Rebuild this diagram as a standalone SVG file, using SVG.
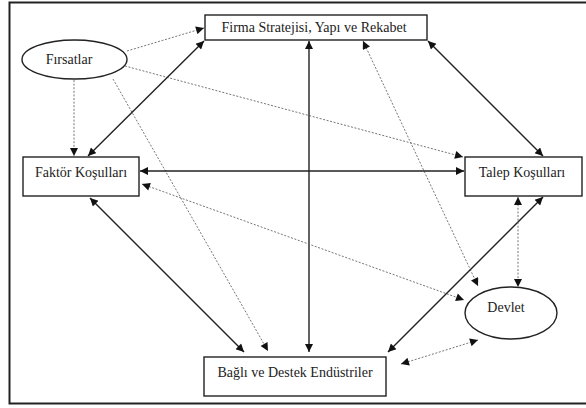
<svg xmlns="http://www.w3.org/2000/svg" width="586" height="408" viewBox="0 0 586 408">
<defs>
<style>
.box{fill:#fff;stroke:#222;stroke-width:1.4}
.lbl{font-family:'Liberation Serif','Times New Roman','DejaVu Serif',serif;font-size:14px;fill:#222;text-anchor:middle}
.solid{stroke:#222;stroke-width:1.4;fill:none;marker-start:url(#ah);marker-end:url(#ah)}
.dot{stroke:#666;stroke-width:0.9;fill:none;stroke-dasharray:2 1.6}
.one{marker-end:url(#ah)}
.two{marker-start:url(#ah);marker-end:url(#ah)}
</style>
<marker id="ah" viewBox="0 0 10 10" refX="10" refY="5" markerWidth="9" markerHeight="8" markerUnits="userSpaceOnUse" orient="auto-start-reverse">
<path d="M0,0 L10,5 L0,10 z" fill="#111"/>
</marker>
</defs>
<rect width="586" height="408" fill="#fff"/>
<path d="M590,2.5 H9.5 V403.5 H590" fill="none" stroke="#222" stroke-width="2"/>
<g id="connectors">
<line class="dot one" x1="127" y1="51" x2="204" y2="28"/>
<line class="dot one" x1="74" y1="80" x2="74" y2="156"/>
<line class="dot one" x1="125" y1="66" x2="463" y2="157"/>
<line class="dot one" x1="113" y1="79" x2="268" y2="351"/>
<line class="solid" x1="204" y1="41" x2="88" y2="156"/>
<line class="solid" x1="309" y1="41" x2="309" y2="352"/>
<line class="dot two" x1="363" y1="41" x2="478" y2="286"/>
<line class="solid" x1="428" y1="41" x2="543" y2="156"/>
<line class="solid" x1="140" y1="171" x2="464" y2="171"/>
<line class="dot two" x1="142" y1="184" x2="464" y2="300"/>
<line class="solid" x1="90" y1="198" x2="244" y2="352"/>
<line class="solid" x1="543" y1="197" x2="388" y2="352"/>
<line class="dot two" x1="518" y1="197" x2="518" y2="287"/>
<line class="dot two" x1="401" y1="364" x2="478" y2="340"/>
</g>
<g id="firma">
<rect class="box" x="205" y="15" width="222" height="25"/>
<text class="lbl" x="314" y="32">Firma Stratejisi, Yapı ve Rekabet</text>
</g>
<g id="firsatlar">
<ellipse class="box" cx="74.5" cy="59.5" rx="52.5" ry="19.5"/>
<text class="lbl" x="69" y="64">Fırsatlar</text>
</g>
<g id="faktor">
<rect class="box" x="23" y="157" width="116" height="39"/>
<text class="lbl" x="81" y="177">Faktör Koşulları</text>
</g>
<g id="talep">
<rect class="box" x="465" y="157" width="117" height="39"/>
<text class="lbl" x="522" y="177">Talep Koşulları</text>
</g>
<g id="devlet">
<ellipse class="box" cx="511" cy="313" rx="46" ry="26"/>
<text class="lbl" x="506" y="312">Devlet</text>
</g>
<g id="bagli">
<rect class="box" x="204" y="357" width="182" height="39"/>
<text class="lbl" x="295" y="377">Bağlı ve Destek Endüstriler</text>
</g>
</svg>
